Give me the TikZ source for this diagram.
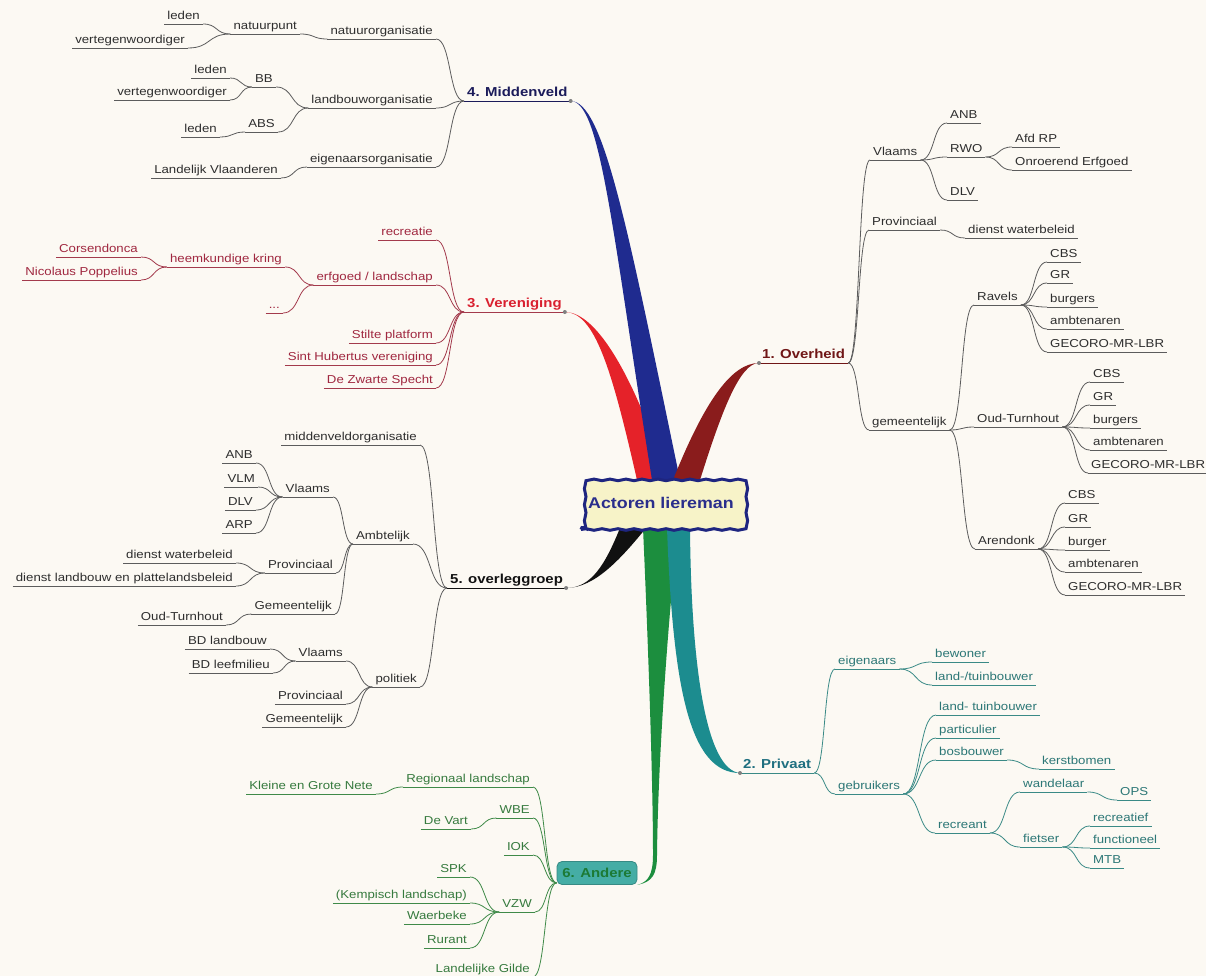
\documentclass[tikz,border=0pt]{standalone}
\usepackage{fontspec}
\setmainfont{Liberation Sans}[FakeStretch=1.15]
\usetikzlibrary{calc,decorations.pathmorphing}
\newcommand\mmlbl{\fontsize{11.5}{13}\selectfont}
\newcommand\mmttl{\fontsize{13}{15}\selectfont\bfseries}
\newcommand\mmroot{\fontsize{15.5}{17}\selectfont\bfseries}
\definecolor{bg}{HTML}{FCF9F3}
\definecolor{gl}{HTML}{5C5C5C}
\definecolor{gt}{HTML}{2E2E2E}
\definecolor{vl}{HTML}{A33A4C}
\definecolor{vt}{HTML}{A02840}
\definecolor{al}{HTML}{3F8A48}
\definecolor{at}{HTML}{367A3E}
\definecolor{pl}{HTML}{3A8A86}
\definecolor{ptx}{HTML}{2C7776}
\definecolor{t4}{HTML}{1B1B5A}
\definecolor{t3}{HTML}{D9202F}
\definecolor{t1}{HTML}{701616}
\definecolor{t2}{HTML}{1F6F80}
\definecolor{t5}{HTML}{111111}
\definecolor{wblue}{HTML}{1F2B8F}
\definecolor{wred}{HTML}{E52229}
\definecolor{wdred}{HTML}{8A1C1C}
\definecolor{wgreen}{HTML}{1C8E3E}
\definecolor{wteal}{HTML}{1C8C8F}
\definecolor{wblack}{HTML}{111111}
\definecolor{rootfill}{HTML}{F7F3C8}
\definecolor{rootdraw}{HTML}{1E2580}
\definecolor{roottext}{HTML}{2A2E8C}
\definecolor{andfill}{HTML}{45ADA5}
\definecolor{andtext}{HTML}{1C7A35}
\begin{document}
\begin{tikzpicture}[x=1pt,y=-1pt,
  ul/.style={inner xsep=3pt, inner ysep=1.5pt, text height=8.5pt, text depth=2.5pt, font=\mmlbl,
     append after command={(\tikzlastnode.south west) edge[draw=#1, line width=0.8pt] (\tikzlastnode.south east)}},
  R/.style={ul=#1, anchor=south west},
  L/.style={ul=#1, anchor=south east},
  T/.style={font=\mmttl, text height=9.5pt},
  L4/.style={L=gl, text=gt},
  L3/.style={L=vl, text=vt},
  L5/.style={L=gl, text=gt},
  L6/.style={L=al, text=at},
  R1/.style={R=gl, text=gt},
  R2/.style={R=pl, text=ptx},
  cn/.style={draw=#1, line width=0.8pt, to path={let \p1=(\tikztostart), \p2=(\tikztotarget) in
     .. controls ({\x1+0.55*(\x2-\x1)},\y1) and ({\x2-0.55*(\x2-\x1)},\y2) .. (\tikztotarget)}},
  dot/.style={fill=gray},
]
\useasboundingbox (0,0) rectangle (1206,976);
\fill[bg] (0,0) rectangle (1206,976);

% ---------- 4. Middenveld ----------
\node[ul=t4, T, text=t4, anchor=south west] (mv) at (464,101) {4. Middenveld};
\node[L4] (n4a) at (436,39) {natuurorganisatie};
\node[L4] (np) at (300,34) {natuurpunt};
\node[L4] (l1) at (203,24) {leden};
\node[L4] (v1) at (188,48) {vertegenwoordiger};
\node[L4] (n4b) at (436,108) {landbouworganisatie};
\node[L4] (bb) at (276,87) {BB};
\node[L4] (l2) at (230,78) {leden};
\node[L4] (v2) at (230,100) {vertegenwoordiger};
\node[L4] (absn) at (278,132) {ABS};
\node[L4] (l3) at (220,137) {leden};
\node[L4] (n4c) at (436,167) {eigenaarsorganisatie};
\node[L4] (lv) at (281,178) {Landelijk Vlaanderen};
\draw[cn=gl] (mv.south west) to (n4a.south east);
\draw[cn=gl] (mv.south west) to (n4b.south east);
\draw[cn=gl] (mv.south west) to (n4c.south east);
\draw[cn=gl] (n4a.south west) to (np.south east);
\draw[cn=gl] (np.south west) to (l1.south east);
\draw[cn=gl] (np.south west) to (v1.south east);
\draw[cn=gl] (n4b.south west) to (bb.south east);
\draw[cn=gl] (n4b.south west) to (absn.south east);
\draw[cn=gl] (bb.south west) to (l2.south east);
\draw[cn=gl] (bb.south west) to (v2.south east);
\draw[cn=gl] (absn.south west) to (l3.south east);
\draw[cn=gl] (n4c.south west) to (lv.south east);

% ---------- 3. Vereniging ----------
\node[ul=vl, T, text=t3, anchor=south west] (ver) at (464,312) {3. Vereniging};
\node[L3] (r3a) at (436,240) {recreatie};
\node[L3] (r3b) at (436,285) {erfgoed / landschap};
\node[L3] (hk) at (285,267) {heemkundige kring};
\node[L3] (cors) at (141,257) {Corsendonca};
\node[L3] (nico) at (141,280) {Nicolaus Poppelius};
\node[L3] (dots) at (283,313) {...};
\node[L3] (r3c) at (436,343) {Stilte platform};
\node[L3] (r3d) at (436,365) {Sint Hubertus vereniging};
\node[L3] (r3e) at (436,388) {De Zwarte Specht};
\foreach \c in {r3a,r3b,r3c,r3d,r3e} \draw[cn=vl] (ver.south west) to (\c.south east);
\draw[cn=vl] (r3b.south west) to (hk.south east);
\draw[cn=vl] (r3b.south west) to (dots.south east);
\draw[cn=vl] (hk.south west) to (cors.south east);
\draw[cn=vl] (hk.south west) to (nico.south east);

% ---------- 5. overleggroep ----------
\node[ul=t5, T, text=t5, anchor=south west] (ovl) at (447,588) {5. overleggroep};
\node[L5] (m5) at (420,445) {middenveldorganisatie};
\node[L5] (amb) at (413,544) {Ambtelijk};
\node[L5] (vl5) at (333,497) {Vlaams};
\node[L5] (anb5) at (256,463) {ANB};
\node[L5] (vlm5) at (258,487) {VLM};
\node[L5] (dlv5) at (256,510) {DLV};
\node[L5] (arp5) at (256,533) {ARP};
\node[L5] (pr5) at (336,573) {Provinciaal};
\node[L5] (dw5) at (236,563) {dienst waterbeleid};
\node[L5] (dl5) at (236,586) {dienst landbouw en plattelandsbeleid};
\node[L5] (ge5) at (335,614) {Gemeentelijk};
\node[L5] (ot5) at (226,625) {Oud-Turnhout};
\node[L5] (pol) at (420,687) {politiek};
\node[L5] (vl5b) at (346,661) {Vlaams};
\node[L5] (bdl) at (270,649) {BD landbouw};
\node[L5] (bdm) at (273,673) {BD leefmilieu};
\node[L5] (pr5b) at (346,704) {Provinciaal};
\node[L5] (ge5b) at (346,727) {Gemeentelijk};
\foreach \c in {m5,amb,pol} \draw[cn=gl] (ovl.south west) to (\c.south east);
\foreach \c in {vl5,pr5,ge5} \draw[cn=gl] (amb.south west) to (\c.south east);
\foreach \c in {anb5,vlm5,dlv5,arp5} \draw[cn=gl] (vl5.south west) to (\c.south east);
\foreach \c in {dw5,dl5} \draw[cn=gl] (pr5.south west) to (\c.south east);
\draw[cn=gl] (ge5.south west) to (ot5.south east);
\foreach \c in {vl5b,pr5b,ge5b} \draw[cn=gl] (pol.south west) to (\c.south east);
\foreach \c in {bdl,bdm} \draw[cn=gl] (vl5b.south west) to (\c.south east);

% ---------- 6. Andere ----------
\node[fill=andfill, draw=andfill!80!black, line width=0.8pt, rounded corners=5pt,
      minimum width=80, minimum height=23, inner sep=2pt, font=\mmttl, text=andtext] (and) at (597,873) {6. Andere};
\node[L6] (rl6) at (533,787) {Regionaal landschap};
\node[L6] (kgn) at (376,794) {Kleine en Grote Nete};
\node[L6] (wbe) at (533,818) {WBE};
\node[L6] (dv) at (471,829) {De Vart};
\node[L6] (iok) at (533,855) {IOK};
\node[L6] (vzw) at (535,912) {VZW};
\node[L6] (spk) at (470,877) {SPK};
\node[L6] (kl) at (470,903) {(Kempisch landschap)};
\node[L6] (wb) at (470,924) {Waerbeke};
\node[L6] (ru) at (470,948) {Rurant};
\node[L6] (lg6) at (533,977) {Landelijke Gilde};
\coordinate (aj) at ($(and.south west)+(0,-2)$);
\foreach \c in {rl6,wbe,iok,vzw,lg6} \draw[cn=al] (aj) to (\c.south east);
\draw[cn=al] (rl6.south west) to (kgn.south east);
\draw[cn=al] (wbe.south west) to (dv.south east);
\foreach \c in {spk,kl,wb,ru} \draw[cn=al] (vzw.south west) to (\c.south east);

% ---------- 1. Overheid ----------
\node[ul=t1, T, text=t1, anchor=south west] (ovh) at (759,363) {1. Overheid};
\node[R1] (vl1) at (870,160) {Vlaams};
\node[R1] (anb1) at (947,123) {ANB};
\node[R1] (rwo) at (947,157) {RWO};
\node[R1] (afd) at (1012,147) {Afd RP};
\node[R1] (oe) at (1012,170) {Onroerend Erfgoed};
\node[R1] (dlv1) at (947,200) {DLV};
\node[R1] (pr1) at (869,230) {Provinciaal};
\node[R1] (dw1) at (965,238) {dienst waterbeleid};
\node[R1] (gm1) at (869,430) {gemeentelijk};
\node[R1] (rav) at (974,305) {Ravels};
\node[R1] (rc1) at (1047,262) {CBS};
\node[R1] (rc2) at (1047,283) {GR};
\node[R1] (rc3) at (1047,307) {burgers};
\node[R1] (rc4) at (1047,329) {ambtenaren};
\node[R1] (rc5) at (1047,352) {GECORO-MR-LBR};
\node[R1] (oud) at (974,427) {Oud-Turnhout};
\node[R1] (oc1) at (1090,382) {CBS};
\node[R1] (oc2) at (1090,405) {GR};
\node[R1] (oc3) at (1090,428) {burgers};
\node[R1] (oc4) at (1090,450) {ambtenaren};
\node[R1] (oc5) at (1088,473) {GECORO-MR-LBR};
\node[R1] (are) at (975,549) {Arendonk};
\node[R1] (ac1) at (1065,503) {CBS};
\node[R1] (ac2) at (1065,527) {GR};
\node[R1] (ac3) at (1065,550) {burger};
\node[R1] (ac4) at (1065,572) {ambtenaren};
\node[R1] (ac5) at (1065,595) {GECORO-MR-LBR};
\foreach \c in {vl1,pr1,gm1} \draw[cn=gl] (ovh.south east) to (\c.south west);
\foreach \c in {anb1,rwo,dlv1} \draw[cn=gl] (vl1.south east) to (\c.south west);
\foreach \c in {afd,oe} \draw[cn=gl] (rwo.south east) to (\c.south west);
\draw[cn=gl] (pr1.south east) to (dw1.south west);
\foreach \c in {rav,oud,are} \draw[cn=gl] (gm1.south east) to (\c.south west);
\foreach \c in {rc1,rc2,rc3,rc4,rc5} \draw[cn=gl] (rav.south east) to (\c.south west);
\foreach \c in {oc1,oc2,oc3,oc4,oc5} \draw[cn=gl] (oud.south east) to (\c.south west);
\foreach \c in {ac1,ac2,ac3,ac4,ac5} \draw[cn=gl] (are.south east) to (\c.south west);

% ---------- 2. Privaat ----------
\node[ul=pl, T, text=t2, anchor=south west] (priv) at (740,773) {2. Privaat};
\node[R2] (eig) at (835,669) {eigenaars};
\node[R2] (bew) at (932,662) {bewoner};
\node[R2] (lt1) at (932,685) {land-/tuinbouwer};
\node[R2] (geb) at (835,794) {gebruikers};
\node[R2] (lt2) at (936,715) {land- tuinbouwer};
\node[R2] (par) at (936,738) {particulier};
\node[R2] (bos) at (936,760) {bosbouwer};
\node[R2] (ker) at (1039,769) {kerstbomen};
\node[R2] (rec) at (935,833) {recreant};
\node[R2] (wan) at (1020,792) {wandelaar};
\node[R2] (ops) at (1117,800) {OPS};
\node[R2] (fie) at (1020,847) {fietser};
\node[R2] (rf) at (1090,826) {recreatief};
\node[R2] (fu) at (1090,848) {functioneel};
\node[R2] (mtb) at (1090,868) {MTB};
\foreach \c in {eig,geb} \draw[cn=pl] (priv.south east) to (\c.south west);
\foreach \c in {bew,lt1} \draw[cn=pl] (eig.south east) to (\c.south west);
\foreach \c in {lt2,par,bos,rec} \draw[cn=pl] (geb.south east) to (\c.south west);
\draw[cn=pl] (bos.south east) to (ker.south west);
\foreach \c in {wan,fie} \draw[cn=pl] (rec.south east) to (\c.south west);
\draw[cn=pl] (wan.south east) to (ops.south west);
\foreach \c in {rf,fu,mtb} \draw[cn=pl] (fie.south east) to (\c.south west);

% ---------- wedges ----------
\coordinate (e4) at (mv.south east);
\coordinate (e3) at (ver.south east);
\coordinate (e5) at (ovl.south east);
\coordinate (e1) at (ovh.south west);
\coordinate (e2) at (priv.south west);
\coordinate (e6) at (and.south east);
\fill[wred] (e3) .. controls ($(e3)+(30,0)$) and (612,370) .. (637,480)
   -- (668,480) .. controls (635,380) and ($(e3)+(33,0)$) .. (e3);
\fill[wblue] (e4) .. controls ($(e4)+(30,0)$) and (612,230) .. (652,480)
   -- (680,480) .. controls (628,230) and ($(e4)+(33,0)$) .. (e4);
\fill[wdred] (e1) .. controls ($(e1)+(-27,0)$) and (705,400) .. (673,480)
   -- (700,480) .. controls (722,410) and ($(e1)+(-19,0)$) .. (e1);
\fill[wblack] (e5) .. controls ($(e5)+(25,0)$) and (605,565) .. (620,528)
   -- (646,528) .. controls (620,560) and ($(e5)+(28,0)$) .. (e5);
\fill[wgreen] (643,528) .. controls (648,640) and (653,780) .. (653,855)
   .. controls (653,875) and (648,882) .. (e6)
   .. controls (652,882) and (657,875) .. (657,855)
   .. controls (658,760) and (668,620) .. (678,528) -- cycle;
\fill[wteal] (667,528) .. controls (673,690) and (690,773) .. (e2)
   .. controls (705,770) and (691,660) .. (690,528) -- cycle;
\foreach \e in {e1,e2,e3,e4,e5} \fill[dot] (\e) circle (2pt);

% ---------- root ----------
\node[draw=rootdraw, line width=3pt, fill=rootfill, decorate,
      decoration={snake, amplitude=0.8pt, segment length=16pt},
      minimum width=160, minimum height=53, inner xsep=3pt, font=\mmroot, text=roottext] (root) at (661,503) {Actoren liereman};
\end{tikzpicture}
\end{document}
